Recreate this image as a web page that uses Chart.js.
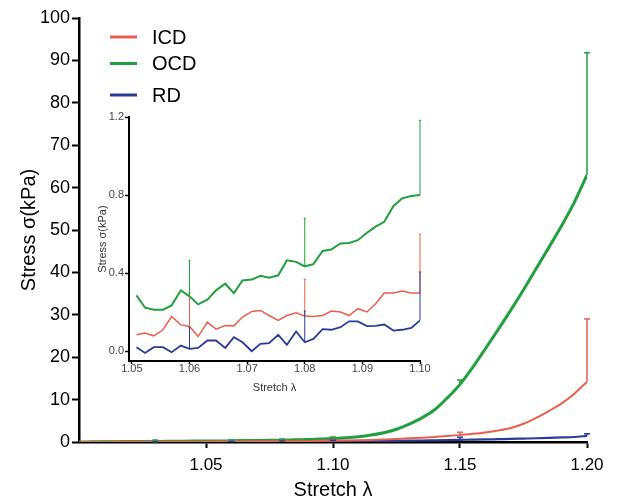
<!DOCTYPE html>
<html>
<head>
<meta charset="utf-8">
<script src="https://cdn.jsdelivr.net/npm/chart.js@4.4.1/dist/chart.umd.min.js"></script>
<style>
  html, body { margin: 0; padding: 0; background: #fff; }
  #wrap { position: relative; width: 621px; height: 500px; }
  #main { position: absolute; left: 0; top: 0; }
  #inset { position: absolute; left: 90px; top: 105px; }
</style>
</head>
<body>
<div id="wrap">
  <canvas id="main" width="621" height="500"></canvas>
  <canvas id="inset" width="340" height="295"></canvas>
</div>
<script>
// ---- Full stretch range (kPa) ----
const stretchMain = [1.000, 1.005, 1.010, 1.015, 1.020, 1.025, 1.030, 1.035, 1.040, 1.045,
                     1.050, 1.055, 1.060, 1.065, 1.070, 1.075, 1.080, 1.085, 1.090, 1.095,
                     1.100, 1.105, 1.110, 1.115, 1.120, 1.125, 1.130, 1.135, 1.140, 1.145,
                     1.150, 1.155, 1.160, 1.165, 1.170, 1.175, 1.180, 1.185, 1.190, 1.195, 1.200];
const icdMain = [0.00, 0.01, 0.02, 0.03, 0.03, 0.04, 0.05, 0.05, 0.06, 0.07,
                 0.08, 0.11, 0.13, 0.13, 0.18, 0.16, 0.18, 0.20, 0.20, 0.30,
                 0.30, 0.35, 0.42, 0.50, 0.60, 0.72, 0.86, 1.02, 1.20, 1.40,
                 1.65, 1.92, 2.25, 2.70, 3.30, 4.30, 5.70, 7.30, 9.10, 11.4, 14.2];
const ocdMain = [0.00, 0.03, 0.06, 0.08, 0.10, 0.12, 0.14, 0.16, 0.19, 0.22,
                 0.26, 0.21, 0.28, 0.33, 0.36, 0.39, 0.43, 0.53, 0.58, 0.72,
                 0.80, 0.98, 1.25, 1.65, 2.20, 3.00, 4.20, 5.70, 7.60, 10.4,
                 13.6, 17.6, 22.0, 26.5, 31.1, 35.9, 40.9, 45.9, 51.0, 56.5, 63.0];
const rdMain  = [0.00, 0.00, 0.01, 0.01, 0.01, 0.01, 0.02, 0.02, 0.02, 0.02,
                 0.02, 0.01, 0.01, 0.05, 0.02, 0.08, 0.05, 0.11, 0.14, 0.11,
                 0.16, 0.18, 0.20, 0.22, 0.25, 0.28, 0.31, 0.35, 0.40, 0.45,
                 0.50, 0.55, 0.60, 0.66, 0.72, 0.80, 0.88, 0.97, 1.07, 1.18, 1.45];

// Upper error limits (mean + SD) on the full range
const errStretchMain = [1.03, 1.06, 1.08, 1.10, 1.15, 1.20];
const icdErrMain = [0.10, 0.30, 0.37, 0.60, 2.3, 29.0];
const ocdErrMain = [0.47, 0.47, 0.68, 1.18, 14.6, 91.8];
const rdErrMain  = [0.03, 0.12, 0.21, 0.41, 1.1, 1.95];

const xTicksMain = [1.05, 1.10, 1.15, 1.20];

// ---- Low-stretch detail (1.05 - 1.10) ----
const stretchInset = [1.0508, 1.0523, 1.0538, 1.0554, 1.0569, 1.0585, 1.0600, 1.0615, 1.0631, 1.0646,
                      1.0662, 1.0677, 1.0692, 1.0708, 1.0723, 1.0738, 1.0754, 1.0769, 1.0785, 1.0800,
                      1.0815, 1.0831, 1.0846, 1.0862, 1.0877, 1.0892, 1.0908, 1.0923, 1.0938, 1.0954,
                      1.0969, 1.0985, 1.1000];
const icdInset = [0.084, 0.093, 0.079, 0.110, 0.178, 0.135, 0.127, 0.075, 0.149, 0.113,
                  0.132, 0.130, 0.175, 0.204, 0.209, 0.183, 0.158, 0.183, 0.197, 0.180,
                  0.178, 0.183, 0.206, 0.201, 0.183, 0.218, 0.201, 0.243, 0.298, 0.298,
                  0.309, 0.298, 0.298];
const ocdInset = [0.286, 0.223, 0.213, 0.213, 0.235, 0.312, 0.281, 0.240, 0.264, 0.312,
                  0.346, 0.298, 0.363, 0.367, 0.386, 0.377, 0.389, 0.466, 0.458, 0.435,
                  0.446, 0.514, 0.521, 0.552, 0.555, 0.569, 0.607, 0.638, 0.663, 0.744,
                  0.783, 0.795, 0.800];
const rdInset  = [0.021, -0.009, 0.021, 0.021, -0.005, 0.029, 0.012, 0.017, 0.055, 0.055,
                  0.017, 0.072, 0.046, 0.000, 0.038, 0.041, 0.084, 0.033, 0.101, 0.046,
                  0.063, 0.113, 0.110, 0.123, 0.153, 0.153, 0.129, 0.130, 0.137, 0.106,
                  0.110, 0.120, 0.158];

const errStretchInset = [1.0600, 1.0800, 1.1000];
const icdErrInset = [0.30, 0.369, 0.60];
const ocdErrInset = [0.466, 0.681, 1.183];
const rdErrInset  = [0.123, 0.206, 0.406];

const xTicksInset = [1.05, 1.06, 1.07, 1.08, 1.09, 1.10];
const yTicksInset = [0.0, 0.4, 0.8, 1.2];

const seriesNames = ['ICD', 'OCD', 'RD'];
const COLORS = { ICD: '#e9604f', OCD: '#22a040', RD: '#2a3b98' };
const FONT = "'Liberation Sans', Arial, sans-serif";

const toPoints = (xs, ys) => xs.map((x, i) => ({ x: x, y: ys[i] }));

// Vertical one-sided error bars with a small cap
const errorBarPlugin = {
  id: 'errorBars',
  afterDatasetsDraw(chart, args, opts) {
    const { ctx } = chart;
    const xs = chart.scales.x, ys = chart.scales.y;
    chart.data.datasets.forEach((ds, di) => {
      if (!ds.errorBars || !chart.isDatasetVisible(di)) return;
      const { at, top } = ds.errorBars;
      ctx.save();
      ctx.strokeStyle = ds.borderColor;
      ctx.lineWidth = opts.width;
      at.forEach((xv, k) => {
        const pt = ds.data.find(p => Math.abs(p.x - xv) < 1e-6);
        if (!pt) return;
        const px = xs.getPixelForValue(xv);
        const y0 = ys.getPixelForValue(pt.y);
        const y1 = ys.getPixelForValue(top[k]);
        ctx.beginPath();
        ctx.moveTo(px, y0);
        ctx.lineTo(px, y1);
        ctx.moveTo(px - opts.cap, y1);
        ctx.lineTo(px + opts.cap, y1);
        ctx.stroke();
      });
      ctx.restore();
    });
  }
};

// Legend in the upper-left corner of the plot
const cornerLegend = {
  id: 'cornerLegend',
  afterDraw(chart, args, opts) {
    const { ctx } = chart;
    ctx.save();
    chart.data.datasets.forEach((ds, i) => {
      const yy = opts.rows[i];
      ctx.strokeStyle = ds.borderColor;
      ctx.lineWidth = 3;
      ctx.beginPath();
      ctx.moveTo(opts.lineX0, yy);
      ctx.lineTo(opts.lineX1, yy);
      ctx.stroke();
      ctx.fillStyle = '#000';
      ctx.font = opts.fontSize + 'px ' + FONT;
      ctx.textBaseline = 'middle';
      ctx.textAlign = 'left';
      ctx.fillText(ds.label, opts.textX, yy + 1);
    });
    ctx.restore();
  }
};

const mainSeries = [icdMain, ocdMain, rdMain];
const mainErrs = [icdErrMain, ocdErrMain, rdErrMain];
const mainWidths = [2, 3, 2.2];

new Chart(document.getElementById('main'), {
  type: 'line',
  data: {
    datasets: seriesNames.map((name, i) => ({
      label: name,
      data: toPoints(stretchMain, mainSeries[i]),
      borderColor: COLORS[name],
      borderWidth: mainWidths[i],
      pointRadius: 0,
      cubicInterpolationMode: 'monotone',
      fill: false,
      errorBars: { at: errStretchMain, top: mainErrs[i] }
    }))
  },
  options: {
    responsive: false,
    animation: false,
    events: [],
    layout: { padding: { top: 18, right: 34, left: 0, bottom: 0 } },
    plugins: {
      legend: { display: false },
      tooltip: { enabled: false },
      errorBars: { width: 1.5, cap: 3 },
      cornerLegend: { rows: [37, 63.5, 95], lineX0: 110, lineX1: 137, textX: 152, fontSize: 20 }
    },
    scales: {
      x: {
        type: 'linear',
        min: 1.0,
        max: 1.2,
        afterBuildTicks: s => { s.ticks = xTicksMain.map(v => ({ value: v })); },
        afterFit: s => { s.height = 58; },
        ticks: {
          callback: v => Number(v).toFixed(2),
          font: { family: FONT, size: 17 },
          color: '#000',
          padding: 7,
          maxRotation: 0,
          autoSkip: false
        },
        grid: { display: true, drawOnChartArea: false, drawTicks: true, tickLength: 6, tickWidth: 2, tickColor: '#000' },
        border: { display: true, color: '#000', width: 2.5 },
        title: { display: true, text: 'Stretch λ', font: { family: FONT, size: 20, lineHeight: 1 }, color: '#000', padding: { top: 0, bottom: 0 } }
      },
      y: {
        type: 'linear',
        min: 0,
        max: 100,
        afterFit: s => { s.width = 79; },
        ticks: {
          stepSize: 10,
          font: { family: FONT, size: 18 },
          color: '#000',
          padding: 2
        },
        grid: { display: true, drawOnChartArea: false, drawTicks: true, tickLength: 7, tickWidth: 2, tickColor: '#000' },
        border: { display: true, color: '#000', width: 2.5 },
        title: { display: true, text: 'Stress σ(kPa)', font: { family: FONT, size: 20 }, color: '#000', padding: { top: 17, bottom: 0 } }
      }
    }
  },
  plugins: [errorBarPlugin, cornerLegend]
});

const insetSeries = [icdInset, ocdInset, rdInset];
const insetErrs = [icdErrInset, ocdErrInset, rdErrInset];
const insetWidths = [1.5, 2, 1.8];

new Chart(document.getElementById('inset'), {
  type: 'line',
  data: {
    datasets: seriesNames.map((name, i) => ({
      label: name,
      data: toPoints(stretchInset, insetSeries[i]),
      borderColor: COLORS[name],
      borderWidth: insetWidths[i],
      pointRadius: 0,
      tension: 0,
      fill: false,
      errorBars: { at: errStretchInset, top: insetErrs[i] }
    }))
  },
  options: {
    responsive: false,
    animation: false,
    events: [],
    layout: { padding: { top: 12, right: 10, left: 0, bottom: 0 } },
    plugins: {
      legend: { display: false },
      tooltip: { enabled: false },
      errorBars: { width: 1, cap: 1 }
    },
    scales: {
      x: {
        type: 'linear',
        min: 1.0495,
        max: 1.10,
        afterBuildTicks: s => { s.ticks = xTicksInset.map(v => ({ value: v })); },
        afterFit: s => { s.height = 39; },
        ticks: {
          callback: v => Number(v).toFixed(2),
          font: { family: FONT, size: 11, lineHeight: 1 },
          color: '#444',
          padding: -1,
          maxRotation: 0,
          autoSkip: false
        },
        grid: { display: true, drawOnChartArea: false, drawTicks: true, tickLength: 3, tickWidth: 1.5, tickColor: '#000' },
        border: { display: true, color: '#000', width: 2 },
        title: { display: true, text: 'Stretch λ', font: { family: FONT, size: 11 }, color: '#333', padding: { top: 0, bottom: 5 } }
      },
      y: {
        type: 'linear',
        min: -0.05,
        max: 1.2,
        afterBuildTicks: s => { s.ticks = yTicksInset.map(v => ({ value: v })); },
        afterFit: s => { s.width = 39; },
        ticks: {
          callback: v => Number(v).toFixed(1),
          font: { family: FONT, size: 11 },
          color: '#444',
          padding: 1,
          autoSkip: false
        },
        grid: { display: true, drawOnChartArea: false, drawTicks: true, tickLength: 4, tickWidth: 1.5, tickColor: '#000' },
        border: { display: true, color: '#000', width: 2 },
        title: { display: true, text: 'Stress σ(kPa)', font: { family: FONT, size: 11 }, color: '#333', padding: { top: 6, bottom: 0 } }
      }
    }
  },
  plugins: [errorBarPlugin]
});
</script>
</body>
</html>
